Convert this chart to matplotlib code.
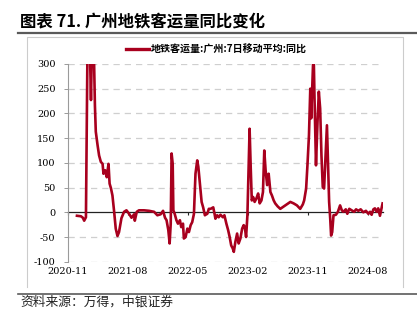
import pandas as pd
import matplotlib
matplotlib.use("Agg")
import matplotlib.pyplot as plt
from matplotlib.lines import Line2D

plt.rcParams['font.family'] = ['Noto Sans CJK SC', 'DejaVu Sans']
plt.rcParams['axes.unicode_minus'] = False

# Guangzhou metro ridership, 7-day MA, YoY (%)
dates = [
    '2020-12-12', '2020-12-30', '2021-01-08', '2021-01-14', '2021-01-22', '2021-01-29',
    '2021-02-09', '2021-02-14', '2021-02-18', '2021-02-27', '2021-03-04', '2021-03-08',
    '2021-03-16', '2021-03-23', '2021-03-31', '2021-04-08', '2021-04-12', '2021-04-20',
    '2021-04-27', '2021-05-05', '2021-05-10', '2021-05-16', '2021-05-23', '2021-05-31',
    '2021-06-07', '2021-06-15', '2021-06-22', '2021-07-03', '2021-07-15', '2021-07-26',
    '2021-08-07', '2021-08-18', '2021-08-30', '2021-09-02', '2021-09-11', '2021-09-21',
    '2021-10-14', '2021-11-06', '2021-11-29', '2021-12-14', '2021-12-29', '2022-01-09',
    '2022-01-18', '2022-01-25', '2022-02-02', '2022-02-08', '2022-02-13', '2022-02-17',
    '2022-02-22', '2022-02-25', '2022-03-03', '2022-03-11', '2022-03-18', '2022-03-27',
    '2022-04-02', '2022-04-10', '2022-04-14', '2022-04-22', '2022-04-30', '2022-05-07',
    '2022-05-15', '2022-05-22', '2022-05-30', '2022-06-06', '2022-06-14', '2022-06-19',
    '2022-06-26', '2022-07-04', '2022-07-11', '2022-07-19', '2022-07-22', '2022-07-30',
    '2022-08-06', '2022-08-14', '2022-08-26', '2022-09-01', '2022-09-05', '2022-09-13',
    '2022-09-20', '2022-09-28', '2022-10-09', '2022-10-16', '2022-10-25', '2022-11-02',
    '2022-11-09', '2022-11-16', '2022-11-23', '2022-11-28', '2022-12-05', '2022-12-13',
    '2022-12-20', '2022-12-28', '2023-01-05', '2023-01-12', '2023-01-17', '2023-01-23',
    '2023-01-29', '2023-02-03', '2023-02-08', '2023-02-13', '2023-02-18', '2023-02-24',
    '2023-03-03', '2023-03-11', '2023-03-19', '2023-03-26', '2023-04-03', '2023-04-10',
    '2023-04-16', '2023-04-22', '2023-04-29', '2023-05-06', '2023-05-14', '2023-05-21',
    '2023-05-29', '2023-06-05', '2023-06-16', '2023-06-28', '2023-07-21', '2023-08-13',
    '2023-08-28', '2023-09-12', '2023-09-27', '2023-10-09', '2023-10-15', '2023-10-24',
    '2023-10-30', '2023-11-06', '2023-11-12', '2023-11-16', '2023-11-21', '2023-11-27',
    '2023-12-01', '2023-12-08', '2023-12-15', '2023-12-21', '2023-12-27', '2024-01-02',
    '2024-01-08', '2024-01-14', '2024-01-20', '2024-01-27', '2024-01-31', '2024-02-06',
    '2024-02-11', '2024-02-15', '2024-02-20', '2024-02-26', '2024-03-08', '2024-03-17',
    '2024-03-27', '2024-04-04', '2024-04-11', '2024-04-22', '2024-04-29', '2024-05-08',
    '2024-05-19', '2024-05-30', '2024-06-08', '2024-06-18', '2024-06-29', '2024-07-11',
    '2024-07-23', '2024-08-03', '2024-08-11', '2024-08-18', '2024-08-26', '2024-09-02',
    '2024-09-10', '2024-09-17', '2024-09-25', '2024-09-30', '2024-10-07',
]
yoy = [
    -7, -8, -11, -17, -10, 330,
    330, 227, 330, 330, 216, 163,
    136, 115, 102, 98, 78, 85,
    71, 98, 58, 49, 34, 0,
    -33, -48, -40, -12, 1, 4,
    -3, -11, -4, -17, 1, 4,
    4, 3, 1, -6, -4, 3,
    -11, -16, -36, -63, -23, 119,
    98, 4, -3, -16, -23, -16,
    -30, -23, -53, -50, -33, -40,
    -26, -20, -3, 78, 105, 92,
    58, 21, 10, -6, -5, -3,
    7, 7, 10, -3, -13, -6,
    -10, -5, -10, -6, -23, -36,
    -50, -67, -73, -80, -60, -43,
    -63, -53, -33, -26, -30, -50,
    -6, 85, 169, 92, 24, 31,
    21, 28, 38, 18, 24, 41,
    125, 85, 55, 78, 41, 34,
    24, 18, 12, 7, 14, 21,
    18, 14, 7, 16, 24, 48,
    95, 156, 250, 190, 254, 330,
    237, 95, 183, 244, 210, 115,
    51, 48, 109, 176, 115, 21,
    -13, -47, -40, -6, -5, 1,
    14, 4, 1, 6, -3, 7,
    4, 1, 6, 3, 6, 0,
    3, -3, 1, -5, 6, 8,
    1, 8, -7, 3, 18,
]
xtick_labels = ['2020-11', '2021-08', '2022-05', '2023-02', '2023-11', '2024-08']
yticks = [-100, -50, 0, 50, 100, 150, 200, 250, 300]

series_name = '地铁客运量:广州:7日移动平均:同比'
title = '图表 71. 广州地铁客运量同比变化'
source = '资料来源：万得，中银证券'

red = '#A8001E'

x = pd.to_datetime(dates)
xticks = pd.to_datetime(xtick_labels, format='%Y-%m')

fig = plt.figure(figsize=(4.17, 3.28), dpi=100)
ax = fig.add_axes([0.163, 0.202, 0.755, 0.603])

ax.plot(x, yoy, color=red, linewidth=1.9, zorder=3, solid_joinstyle='round')

ax.set_ylim(-100, 300)
ax.set_xlim(pd.Timestamp('2020-11-01'), pd.Timestamp('2024-10-08'))
ax.set_yticks(yticks)
ax.set_yticklabels([str(v) for v in yticks], family='DejaVu Serif', fontsize=7)

# dashed grid for all but the zero line
for v in yticks:
    if v != 0:
        ax.axhline(v, color='#cfcfcf', linewidth=0.9, dashes=(5, 4), zorder=1)

# x axis drawn on the zero line, labels kept at the bottom
ax.spines['bottom'].set_position(('data', 0))
ax.spines['bottom'].set_color('#222222')
ax.spines['bottom'].set_linewidth(0.9)
ax.spines['bottom'].set_zorder(2)
ax.set_xticks(xticks)
ax.tick_params(axis='x', direction='out', length=2.5, width=0.8,
               color='#222222', labelbottom=False)

sec = ax.secondary_xaxis('bottom')
sec.set_xticks(xticks)
sec.set_xticklabels(xtick_labels, family='DejaVu Serif', fontsize=7)
sec.tick_params(length=0, pad=4)
sec.spines['bottom'].set_visible(False)

for s in ['top', 'right']:
    ax.spines[s].set_visible(False)
ax.spines['left'].set_color('#9a9a9a')
ax.tick_params(axis='y', direction='out', length=3, width=0.7,
               color='#9a9a9a', pad=6)

handle = Line2D([], [], color=red, linewidth=2.4)
fig.legend([handle], [series_name], loc='center', bbox_to_anchor=(0.518, 0.848),
           frameon=False, handlelength=2.3, handletextpad=0.2,
           prop={'weight': 'bold', 'size': 7.2})

# title, separators, chart frame and source note
fig.text(0.048, 0.933, title, fontsize=11.8, fontweight='bold', va='center', ha='left')
fig.add_artist(Line2D([0.043, 1.0], [0.899, 0.899], color='#5a5a5a', linewidth=1.6))
fig.add_artist(Line2D([0.065, 0.065, 0.967, 0.967], [0.125, 0.887, 0.887, 0.125],
                      color='#cccccc', linewidth=0.8))
fig.add_artist(Line2D([0.043, 1.0], [0.104, 0.104], color='#5a5a5a', linewidth=1.2))
fig.text(0.048, 0.079, source, fontsize=9.2, style='italic', va='center', ha='left',
         color='#222222')

fig.savefig('out.png', dpi=100)
